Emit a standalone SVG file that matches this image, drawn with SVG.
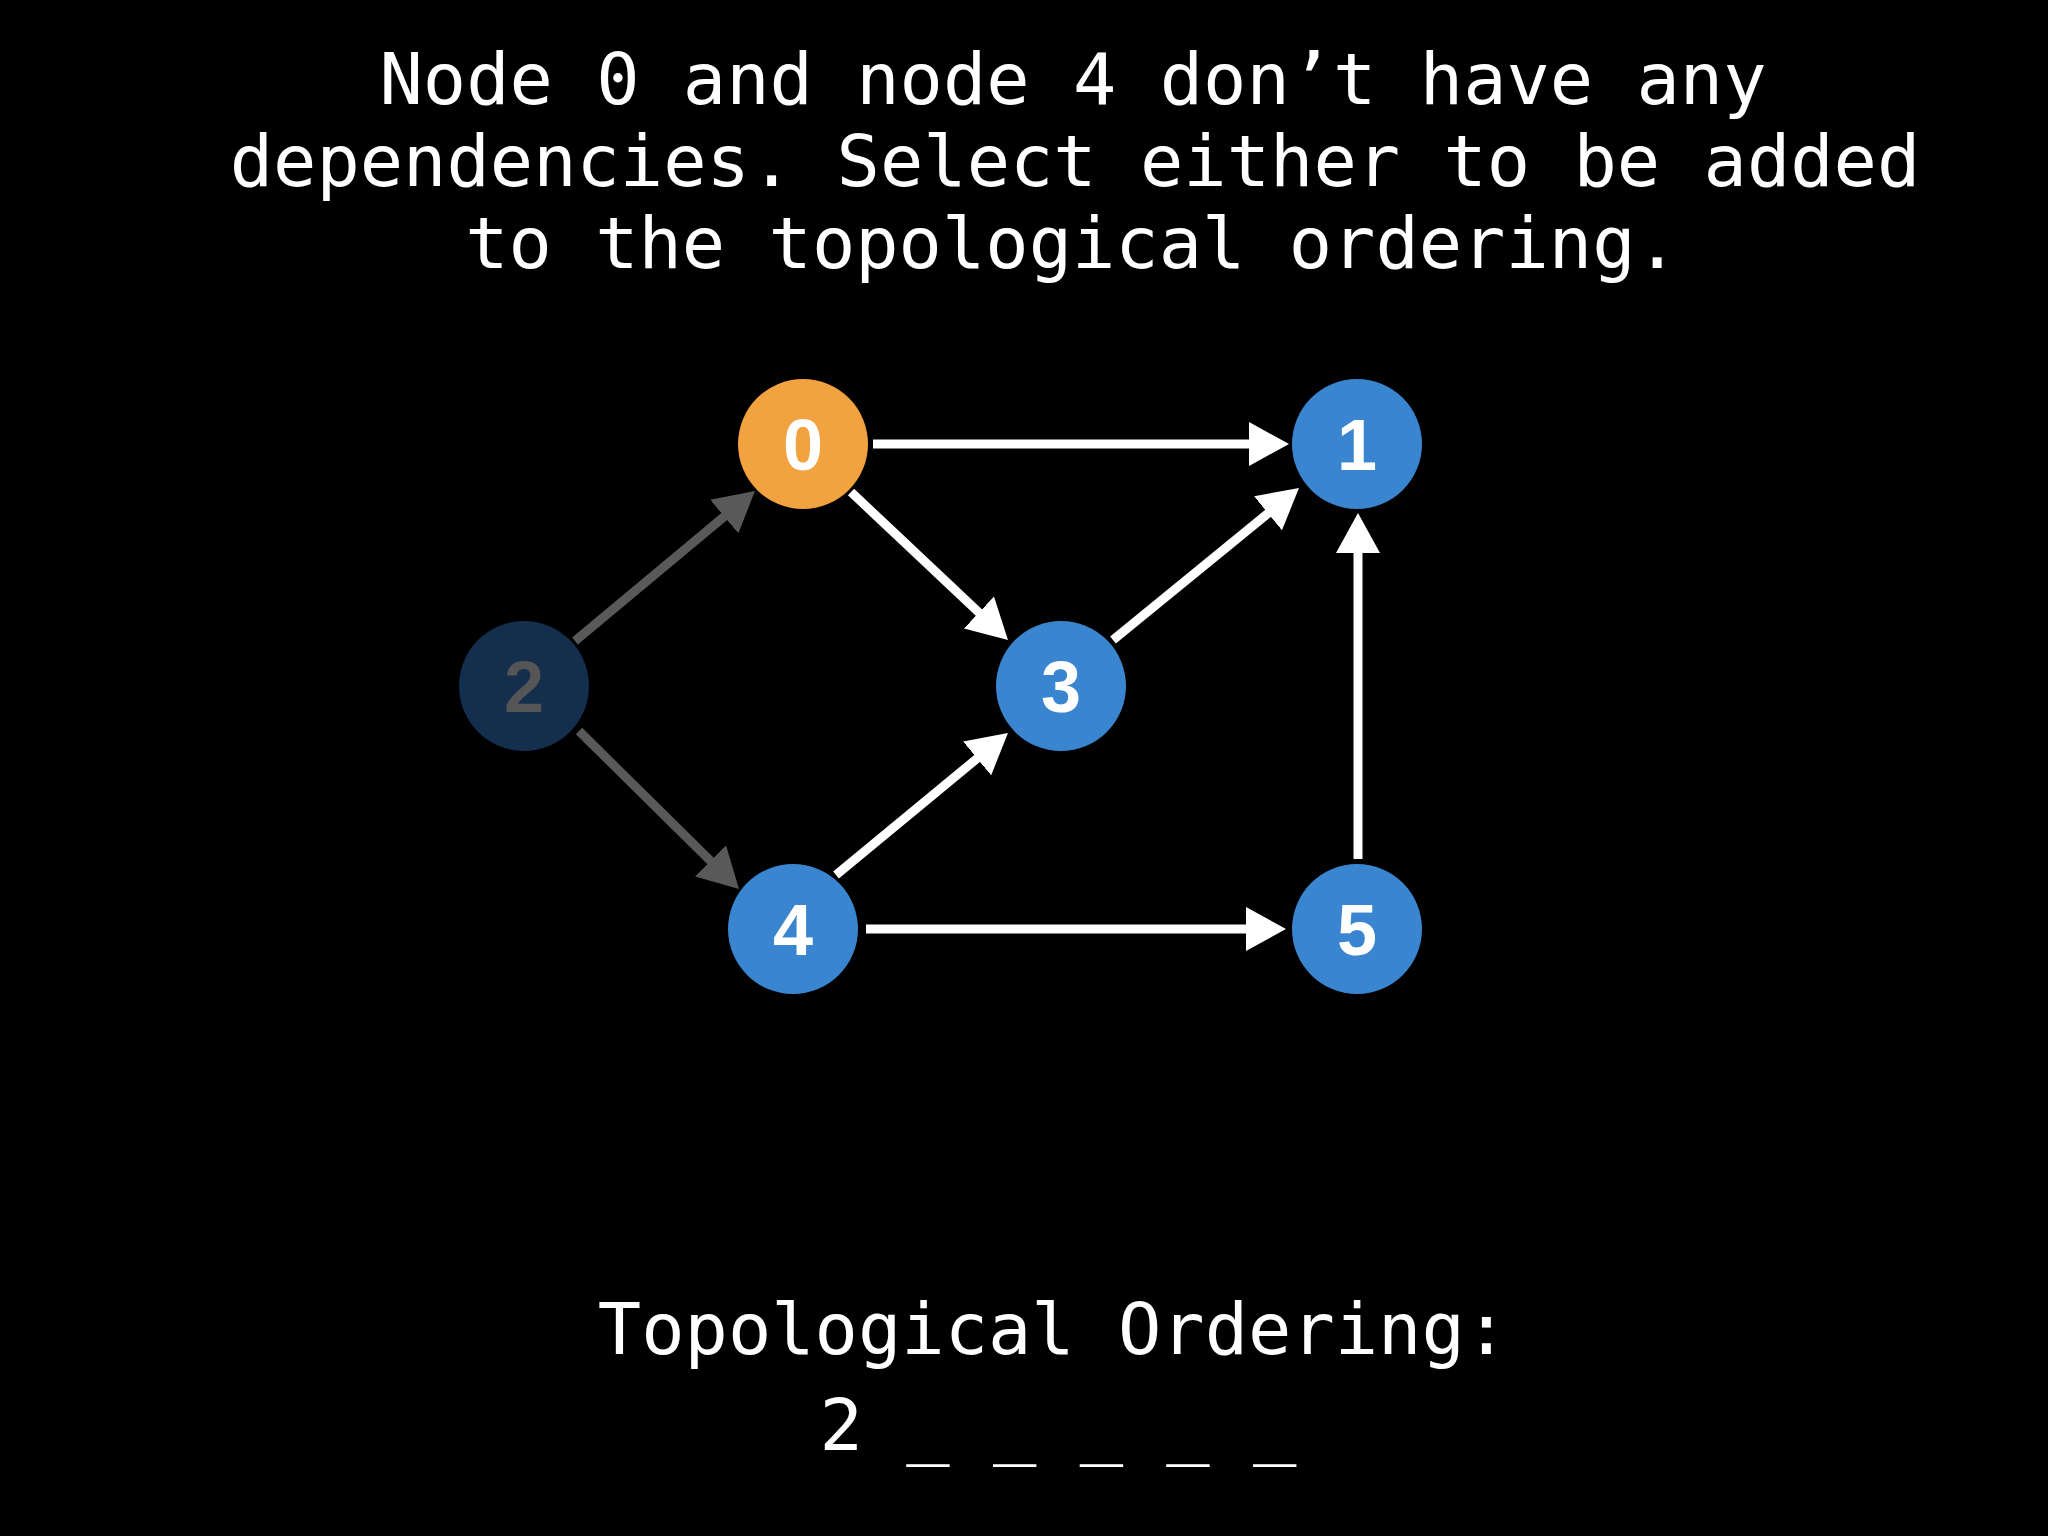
<svg xmlns="http://www.w3.org/2000/svg" width="2048" height="1536" viewBox="0 0 2048 1536">
<defs>
<style>
.t{font-family:"DejaVu Sans Mono",monospace;font-size:72px;fill:#fff;text-anchor:middle}
.lbl{font-family:"Liberation Sans",Arial,sans-serif;font-weight:bold;font-size:72px;text-anchor:middle;fill:#fff}
.dim{fill:#555}
.w{stroke:#fff;stroke-width:9;fill:none}
.g{stroke:#595959;stroke-width:9;fill:none}
</style>
<marker id="aw" viewBox="0 0 10 11" refX="1" refY="5.5" markerWidth="40" markerHeight="44" markerUnits="userSpaceOnUse" orient="auto"><path d="M0,0 L10,5.5 L0,11 z" fill="#fff"/></marker>
<marker id="ag" viewBox="0 0 10 11" refX="1" refY="5.5" markerWidth="40" markerHeight="44" markerUnits="userSpaceOnUse" orient="auto"><path d="M0,0 L10,5.5 L0,11 z" fill="#595959"/></marker>
</defs>
<rect width="2048" height="1536" fill="#000"/>
<g id="title">
<text class="t" x="1073" y="104">Node 0 and node 4 don’t have any</text>
<text class="t" x="1075" y="186">dependencies. Select either to be added</text>
<text class="t" x="1072" y="268">to the topological ordering.</text>
</g>
<g id="connectors">
<line class="w" x1="873" y1="444" x2="1253" y2="444" marker-end="url(#aw)"/>
<line class="w" x1="851" y1="492" x2="981.8" y2="615.3" marker-end="url(#aw)"/>
<line class="w" x1="1113" y1="640" x2="1271.1" y2="510.8" marker-end="url(#aw)"/>
<line class="g" x1="575" y1="641" x2="727.3" y2="514" marker-end="url(#ag)"/>
<line class="g" x1="579" y1="731" x2="713.4" y2="863.7" marker-end="url(#ag)"/>
<line class="w" x1="836" y1="875" x2="980.2" y2="755.9" marker-end="url(#aw)"/>
<line class="w" x1="866" y1="929" x2="1250" y2="929" marker-end="url(#aw)"/>
<line class="w" x1="1358" y1="859" x2="1358" y2="549" marker-end="url(#aw)"/>
</g>
<g id="node0"><circle cx="803" cy="444" r="65" fill="#F3A240"/><text class="lbl" x="803" y="470">0</text></g>
<g id="node1"><circle cx="1357" cy="444" r="65" fill="#3A85D0"/><text class="lbl" x="1357" y="470">1</text></g>
<g id="node2"><circle cx="524" cy="686" r="65" fill="#142E4D"/><text class="lbl dim" x="524" y="712">2</text></g>
<g id="node3"><circle cx="1061" cy="686" r="65" fill="#3A85D0"/><text class="lbl" x="1061" y="712">3</text></g>
<g id="node4"><circle cx="793" cy="929" r="65" fill="#3A85D0"/><text class="lbl" x="793" y="955">4</text></g>
<g id="node5"><circle cx="1357" cy="929" r="65" fill="#3A85D0"/><text class="lbl" x="1357" y="955">5</text></g>
<g id="ordering">
<text class="t" x="1053" y="1354">Topological Ordering:</text>
<text class="t" x="1058" y="1450">2 _ _ _ _ _</text>
</g>
</svg>
